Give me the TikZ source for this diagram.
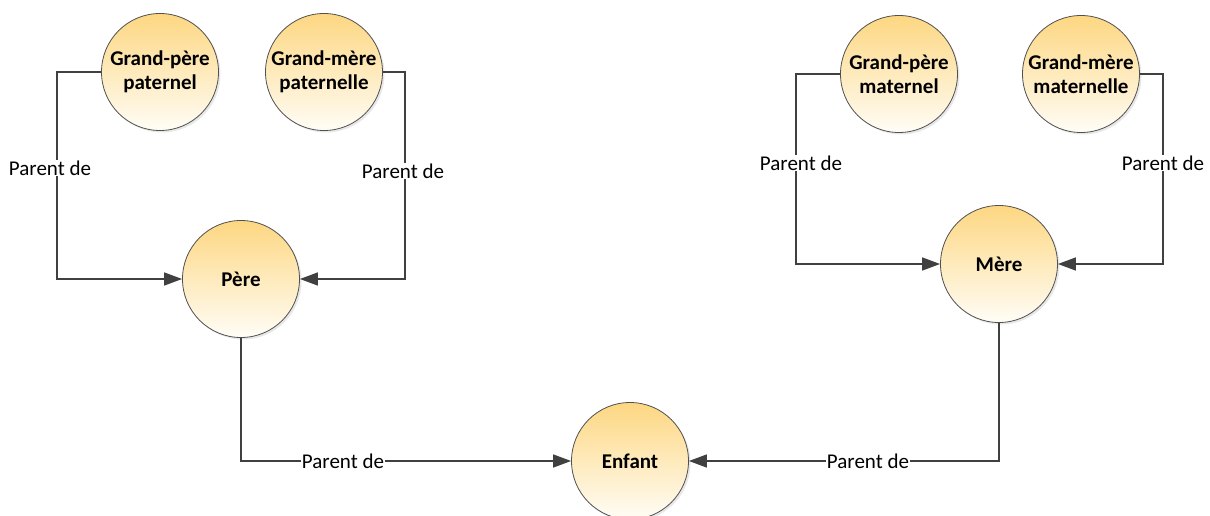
\documentclass[tikz,border=0pt]{standalone}
\usepackage{fontspec}
\setmainfont{Carlito}
\usetikzlibrary{arrows.meta,shadows}
\definecolor{topgold}{HTML}{FDD782}
\definecolor{botcream}{HTML}{FFFDF6}
\definecolor{linegray}{HTML}{404040}
\definecolor{rimgray}{HTML}{505050}
\tikzset{
  person/.style={circle, minimum size=117pt, inner sep=0pt, draw=rimgray, line width=0.8pt,
    top color=topgold, bottom color=botcream, align=center,
    font=\fontsize{21}{24.5}\selectfont\bfseries,
    drop shadow={opacity=0.18, shadow xshift=2pt, shadow yshift=-2pt}},
  link/.style={draw=linegray, line width=1.5pt, -{Triangle[length=18pt,width=13pt]}},
  lbl/.style={fill=white, inner sep=1pt, font=\fontsize{21}{24}\selectfont, text=black}
}
\begin{document}
\begin{tikzpicture}[x=1pt,y=-1pt]
\useasboundingbox (0,0) rectangle (1210,516);
% nodes
\node[person] (gpp) at (160,72) {Grand-père\\paternel};
\node[person] (gmp) at (324,72) {Grand-mère\\paternelle};
\node[person] (pere) at (241,279) {Père};
\node[person] (gpm) at (899,74) {Grand-père\\maternel};
\node[person] (gmm) at (1081,74) {Grand-mère\\maternelle};
\node[person] (mere) at (999,264) {Mère};
\node[person] (enf) at (630,461) {Enfant};
% bend coordinates
\coordinate (a1) at (57,72);
\coordinate (b1) at (405,72);
\coordinate (c1) at (796,74);
\coordinate (d1) at (1163,74);
\coordinate (e1) at (241,461);
\coordinate (f1) at (999,461);
% connectors
\draw[link] (gpp.west) -- (a1) |- (pere.west);
\draw[link] (gmp.east) -- (b1) |- (pere.east);
\draw[link] (gpm.west) -- (c1) |- (mere.west);
\draw[link] (gmm.east) -- (d1) |- (mere.east);
\draw[link] (pere.south) -- (e1) -- (enf.west);
\draw[link] (mere.south) -- (f1) -- (enf.east);
% labels
\node[lbl] (l1) at (50,168) {Parent de};
\node[lbl] (l2) at (403,171) {Parent de};
\node[lbl] (l3) at (801,163) {Parent de};
\node[lbl] (l4) at (1163,163) {Parent de};
\node[lbl] (l5) at (343,461) {Parent de};
\node[lbl] (l6) at (868,461) {Parent de};
\end{tikzpicture}
\end{document}
